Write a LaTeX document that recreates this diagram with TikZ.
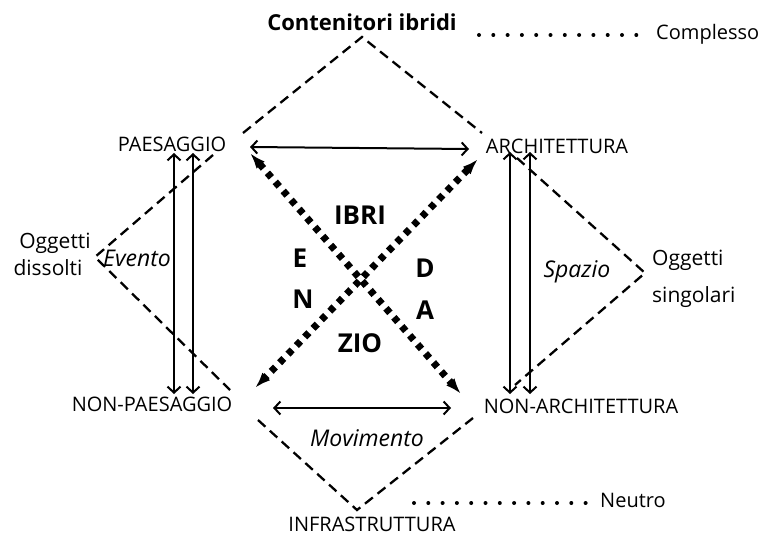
\documentclass[tikz,border=0pt]{standalone}
\usepackage{fontspec}
\setmainfont{Open Sans}
\usetikzlibrary{arrows.meta}
\begin{document}
\begin{tikzpicture}[x=1pt,y=-1pt,
  lbl/.style={inner sep=0pt,font=\fontsize{20}{24}\selectfont},
  itl/.style={inner sep=0pt,font=\fontsize{23}{27}\itshape\selectfont},
  big/.style={inner sep=0pt,font=\fontsize{26}{30}\bfseries\selectfont},
  dashln/.style={line width=2.3pt,dash pattern=on 10pt off 6pt},
  dotrow/.style={line width=4pt,line cap=round,dash pattern=on 0pt off 14.3pt},
  biarrow/.style={line width=2pt,{Straight Barb[length=6pt,width=13pt,line width=2pt]}-{Straight Barb[length=6pt,width=13pt,line width=2pt]}},
  dotarrow/.style={line width=7pt,dash pattern=on 6pt off 6pt,{Latex[length=16pt,width=11pt]}-{Latex[length=16pt,width=11pt]}}
]
\useasboundingbox (0,0) rectangle (760,535);
% text nodes
\node[inner sep=0pt,font=\fontsize{22}{26}\bfseries\selectfont] (cont) at (362,22) {Contenitori ibridi};
\node[lbl,anchor=west] (compl) at (656,34) {Complesso};
\node[lbl] (pae) at (172,144) {PAESAGGIO};
\node[lbl] (arch) at (557,146) {ARCHITETTURA};
\node[lbl] (npae) at (152,404) {NON-PAESAGGIO};
\node[lbl] (narch) at (581,406) {NON-ARCHITETTURA};
\node[lbl] (infra) at (372,524) {INFRASTRUTTURA};
\node[lbl,anchor=west] (neutro) at (600,500) {Neutro};
\node[lbl,font=\fontsize{21}{25}\selectfont] (ogg1) at (55,243) {Oggetti};
\node[lbl,font=\fontsize{21}{25}\selectfont] (diss) at (48,268) {dissolti};
\node[lbl,font=\fontsize{21}{25}\selectfont,anchor=west] (ogg2) at (652,260) {Oggetti};
\node[lbl,font=\fontsize{21}{25}\selectfont,anchor=west] (sing) at (652,297) {singolari};
\node[itl] (evento) at (137,258) {Evento};
\node[itl] (spazio) at (577,272) {Spazio};
\node[itl] (movim) at (367,438) {Movimento};
\node[big] (ibri) at (360,215) {IBRI};
\node[big] (e) at (300,258) {E};
\node[big] (n) at (303,299) {N};
\node[big] (d) at (425,268) {D};
\node[big] (a) at (425,310) {A};
\node[big] (zio) at (360,343) {ZIO};
% coordinates
\coordinate (tdL) at (243,133); \coordinate (tdT) at (362,37); \coordinate (tdR) at (482,133);
\coordinate (ltT) at (213,155); \coordinate (ltA) at (95,257); \coordinate (ltB) at (230,390);
\coordinate (rtT) at (517,158); \coordinate (rtA) at (645,273); \coordinate (rtB) at (515,385);
\coordinate (bdL) at (258,420); \coordinate (bdB) at (357,510); \coordinate (bdR) at (473,418);
\coordinate (h1a) at (250,147); \coordinate (h1b) at (469,149);
\coordinate (h2a) at (273,408); \coordinate (h2b) at (451,408);
\coordinate (v1a) at (174,153); \coordinate (v1b) at (174,394);
\coordinate (v2a) at (193,153); \coordinate (v2b) at (193,394);
\coordinate (v3a) at (510,152); \coordinate (v3b) at (510,394);
\coordinate (v4a) at (530,152); \coordinate (v4b) at (530,394);
\coordinate (x1a) at (250,153); \coordinate (x1b) at (461,394);
\coordinate (x2a) at (478,159); \coordinate (x2b) at (255,388);
\coordinate (dt1a) at (479,35); \coordinate (dt1b) at (646,35);
\coordinate (dt2a) at (414,503); \coordinate (dt2b) at (586,503);
% dashed shapes
\draw[dashln] (tdL) -- (tdT) -- (tdR);
\draw[dashln] (ltT) -- (ltA) -- (ltB);
\draw[dashln] (rtT) -- (rtA) -- (rtB);
\draw[dashln] (bdL) -- (bdB) -- (bdR);
% arrows
\draw[biarrow] (h1a) -- (h1b);
\draw[biarrow] (h2a) -- (h2b);
\draw[biarrow] (v1a) -- (v1b);
\draw[biarrow] (v2a) -- (v2b);
\draw[biarrow] (v3a) -- (v3b);
\draw[biarrow] (v4a) -- (v4b);
\draw[dotarrow] (x1a) -- (x1b);
\draw[dotarrow] (x2a) -- (x2b);
% dotted rows
\draw[dotrow] (dt1a) -- (dt1b);
\draw[dotrow] (dt2a) -- (dt2b);
\end{tikzpicture}
\end{document}
